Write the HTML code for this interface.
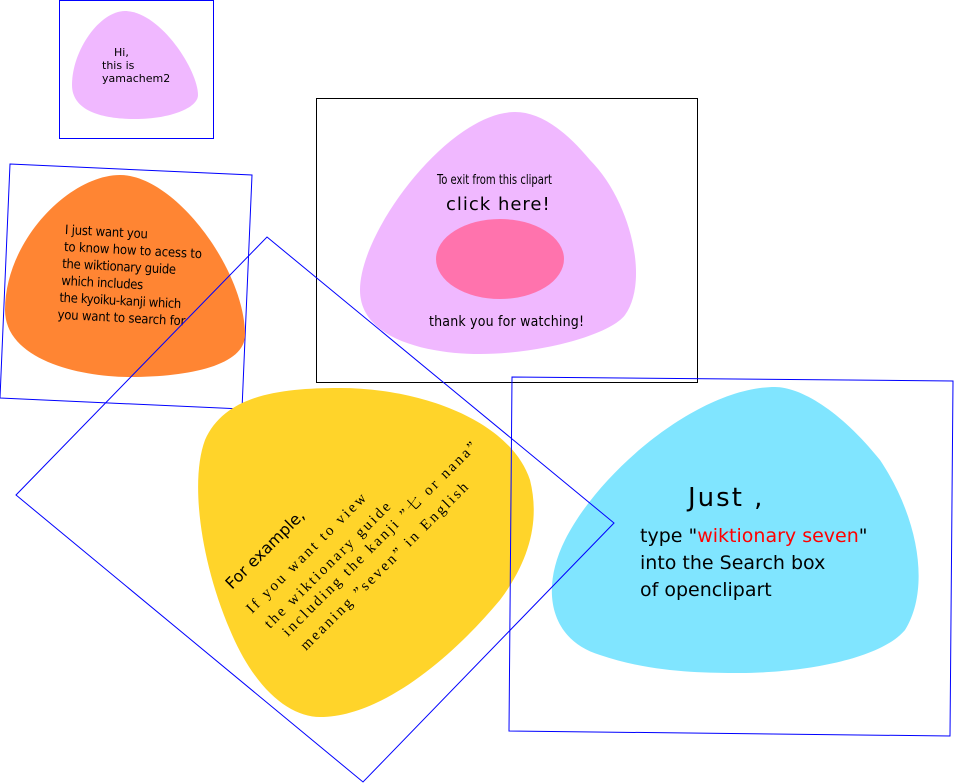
<!DOCTYPE html>
<html><head><style>body{margin:0;background:#fff}svg{display:block}</style></head><body>
<svg width="954" height="783" viewBox="0 0 954 783" xmlns="http://www.w3.org/2000/svg" font-family="'Liberation Sans','DejaVu Sans',sans-serif">
<rect x="59.5" y="0.5" width="154" height="138" fill="none" stroke="#0000ff" stroke-width="1"/>
<path d="M125,11 C100,11 72,50 72,85 C72,110 100,119 135,119 C170,119 198,108 198,95 C198,70 160,11 125,11 Z" fill="#f0b8ff"/>
<text font-family="'DejaVu Sans',sans-serif" font-size="11" fill="#000"><tspan x="114" y="56">Hi,</tspan><tspan x="102" y="69">this is</tspan><tspan x="102" y="82">yamachem2</tspan></text>

<polygon points="10,164 252,175 242,409 0,398" fill="none" stroke="#0000ff"/>
<path d="M120,175 C70,175 5,240 5,310 C5,360 80,377 130,377 C190,377 245,365 245,335 C245,270 175,175 120,175 Z" fill="#ff8533"/>
<g transform="rotate(3 65 230)" font-family="'DejaVu Sans Condensed','DejaVu Sans',sans-serif" font-size="13" fill="#000">
<text x="65" y="234" textLength="83">I just want you</text>
<text x="65" y="251" textLength="138">to know how to acess to</text>
<text x="64" y="268" textLength="114">the wiktionary guide</text>
<text x="64" y="285" textLength="82">which includes</text>
<text x="63" y="302" textLength="122">the kyoiku-kanji which</text>
<text x="62" y="319" textLength="128">you want to search for</text>
</g>

<rect x="316.5" y="98.5" width="381" height="284" fill="none" stroke="#000"/>
<path d="M515,112 C450,112 360,230 360,290 C360,340 430,354 480,354 C540,354 610,335 625,315 C650,280 630,200 590,160 C565,130 540,112 515,112 Z" fill="#f0b8ff"/>
<ellipse cx="500" cy="259" rx="64" ry="40" fill="#ff73ad"/>
<text x="437" y="184" font-family="'DejaVu Sans Condensed','DejaVu Sans',sans-serif" font-size="13" textLength="115" lengthAdjust="spacingAndGlyphs">To exit from this clipart</text>
<text x="446" y="210" font-family="'DejaVu Sans',sans-serif" font-size="18" letter-spacing="1">click here!</text>
<text x="429" y="326" font-family="'DejaVu Sans Condensed','DejaVu Sans',sans-serif" font-size="14" textLength="155">thank you for watching!</text>

<path d="M340,388 C280,388 225,395 205,440 C190,480 200,560 230,630 C255,690 290,717 320,717 C380,717 450,660 500,600 C530,560 540,520 530,480 C510,420 420,388 340,388 Z" fill="#ffd42a"/>

<polygon points="512,377 953,381 950,736 509,731" fill="none" stroke="#0000ff"/>
<path d="M775,387 C700,387 600,470 565,540 C540,590 550,640 600,655 C650,672 700,673 740,673 C800,673 880,660 905,630 C930,590 920,520 880,460 C840,410 800,387 775,387 Z" fill="#80e5ff"/>
<text x="688" y="506" font-family="'DejaVu Sans',sans-serif" font-size="26" letter-spacing="2">Just ,</text>
<text font-family="'DejaVu Sans',sans-serif" font-size="19" fill="#000"><tspan x="640" y="542">type "<tspan fill="#ff0000">wiktionary seven</tspan>"</tspan><tspan x="640" y="569">into the Search box</tspan><tspan x="640" y="596">of openclipart</tspan></text>

<polygon points="267,237 614,523 363,782 16,495" fill="none" stroke="#0000ff"/>

<g transform="rotate(-45 232 590)">
<text x="232" y="590" font-family="'DejaVu Sans',sans-serif" font-size="16">For example,</text>
</g>
<g font-family="'Liberation Serif','Noto Serif CJK SC',serif" font-size="15" letter-spacing="2.5">
<text transform="translate(252,614) rotate(-45)">If you want to view</text>
<text transform="translate(270,629) rotate(-45)">the wiktionary guide</text>
<text transform="translate(288,637) rotate(-45)">including the kanji ”七 or nana”</text>
<text transform="translate(306,651) rotate(-45)">meaning ”seven” in English</text>
</g>
</svg>
</body></html>
